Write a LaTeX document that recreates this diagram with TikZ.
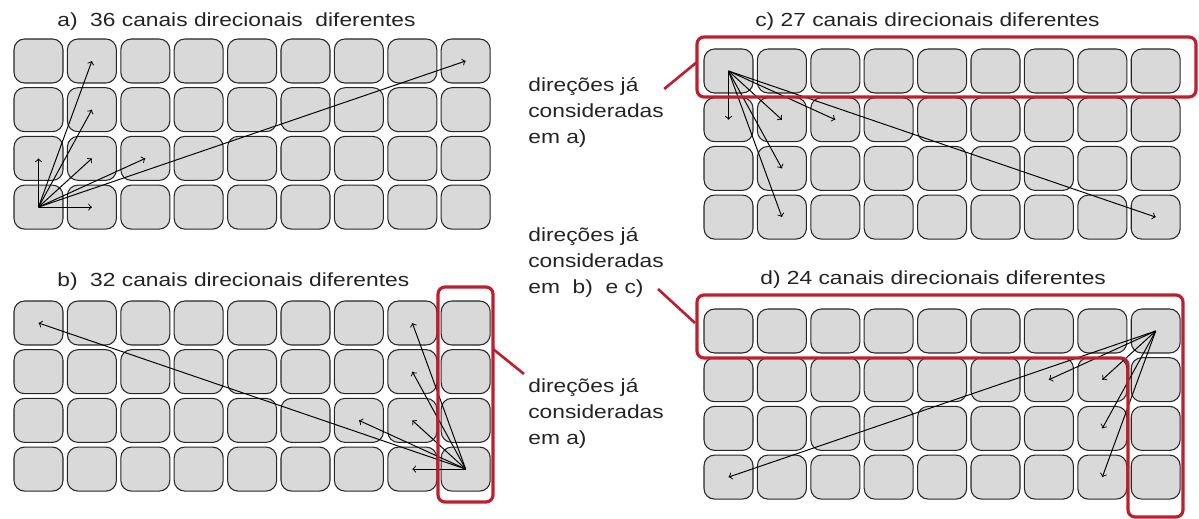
\documentclass[tikz,border=0pt]{standalone}
\usepackage{fontspec}
\setmainfont{Liberation Sans}[FakeStretch=1.2]

\definecolor{marca}{RGB}{190,30,45}
\definecolor{tinta}{RGB}{35,35,35}

\tikzset{
  cela/.style={draw=black!85, line width=0.6pt, fill=black!15, rounded corners=6pt,
    minimum width=0.98cm, minimum height=0.88cm, inner sep=0pt},
  seta/.style={->, line width=0.55pt},
  titulo/.style={anchor=base west, inner sep=0pt, text=tinta, font=\fontsize{10.8}{15}\selectfont},
  nota/.style={anchor=north west, inner sep=0pt, align=left, text=tinta, font=\fontsize{10.8}{14.8}\selectfont},
  moldura/.style={draw=marca, line width=1.8pt, rounded corners=4pt}
}

\begin{document}
\begin{tikzpicture}[x=0.02cm, y=-0.02cm]

\useasboundingbox (0,0) rectangle (1199,519);

% the four grids of 9 x 4 cells
\foreach \g/\gx/\gy in {a/14/39, b/14/301, c/704/49, d/704/309}
\foreach \i in {0,...,8}
\foreach \j in {0,...,3}
\node[cela] (\g\i\j) at (\gx+24.5+53.4*\i, \gy+22+48.7*\j) {};

% titles
\node[titulo] (ta) at (57,27) {a)~ 36 canais direcionais~ diferentes};
\node[titulo] (tb) at (57,287) {b)~ 32 canais direcionais diferentes};
\node[titulo] (tc) at (755,27) {c) 27 canais direcionais diferentes};
\node[titulo] (td) at (760,285) {d) 24 canais direcionais diferentes};

% directions
\foreach \t in {13,02,12,22,11,10,80}
\draw[seta] (a03.center) -- (a\t.center);

\foreach \t in {73,72,62,71,70,00}
\draw[seta] (b83.center) -- (b\t.center);

\foreach \t in {01,11,21,12,13,83}
\draw[seta] (c00.center) -- (c\t.center);

\foreach \t in {71,61,72,73,03}
\draw[seta] (d80.center) -- (d\t.center);

% already counted
\node[nota] (nc) at (528,77) {direções já\\consideradas\\em a)};
\node[nota] (nd) at (528,227) {direções já\\consideradas\\em~ b)~ e c)};
\node[nota] (nb) at (528,378) {direções já\\consideradas\\em a)};

\draw[moldura] (697,37) rectangle (1196,97);
\draw[moldura] (438,287) rectangle (493,502);
\draw[moldura] (697,295) -- (1183,295) -- (1183,517) -- (1128,517) -- (1128,358) -- (697,358) -- cycle;

\coordinate (pc) at (697,62);
\coordinate (pd) at (695,323);
\coordinate (pb) at (493,349);
\draw[marca, line width=1.5pt] (nc.east |- 0,89) -- (pc);
\draw[marca, line width=1.5pt] (658,289) -- (pd);
\draw[marca, line width=1.5pt] (pb) -- (524,374);

\end{tikzpicture}
\end{document}
